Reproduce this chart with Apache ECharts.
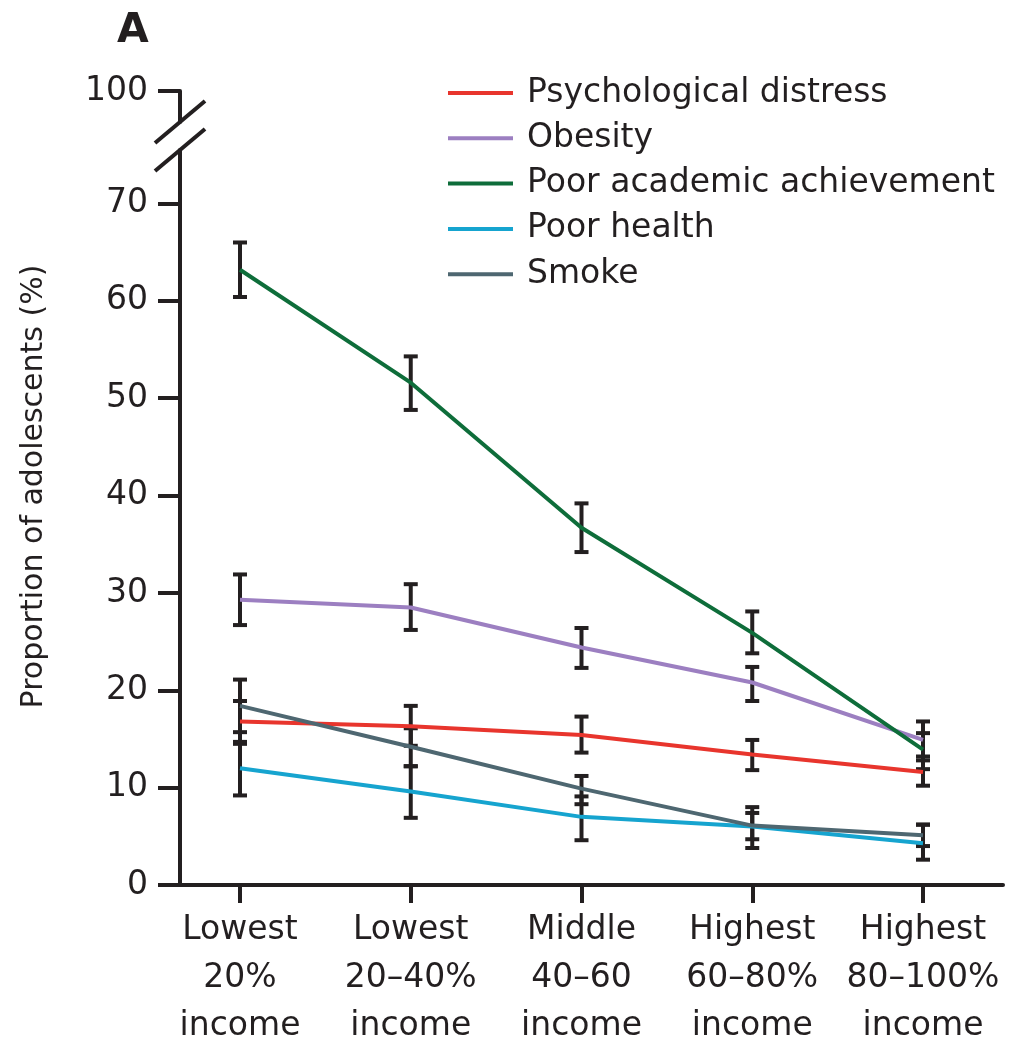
<!DOCTYPE html>
<html>
<head>
<meta charset="utf-8">
<script src="https://cdn.jsdelivr.net/npm/echarts@6/dist/echarts.min.js"></script>
<style>
  html, body { margin: 0; padding: 0; background: #fff; }
  #chart { width: 1012px; height: 1045px; }
</style>
</head>
<body>
<div id="chart"></div>
<script>
// Income groups along the x axis
const categories = [
  'Lowest\n20%\nincome',
  'Lowest\n20–40%\nincome',
  'Middle\n40–60\nincome',
  'Highest\n60–80%\nincome',
  'Highest\n80–100%\nincome'
];

// Outcome names (legend order)
const seriesNames = [
  'Psychological distress',
  'Obesity',
  'Poor academic achievement',
  'Poor health',
  'Smoke'
];

// Proportion of adolescents (%), point estimates
const distress = [16.8, 16.3, 15.4, 13.4, 11.6];
const obesity = [29.3, 28.5, 24.4, 20.8, 14.9];
const academic = [63.2, 51.6, 36.7, 25.9, 13.9];
const health = [12.0, 9.6, 7.0, 6.0, 4.3];
const smoke = [18.4, 14.2, 9.9, 6.1, 5.1];

// 95% confidence limits
const distressLow = [14.5, 14.3, 13.6, 11.8, 10.2];
const distressHigh = [18.9, 18.4, 17.3, 14.9, 12.8];
const obesityLow = [26.7, 26.2, 22.3, 18.9, 13.2];
const obesityHigh = [31.9, 30.9, 26.4, 22.4, 16.8];
const academicLow = [60.4, 48.8, 34.2, 23.8, 11.9];
const academicHigh = [66.0, 54.3, 39.2, 28.1, 15.6];
const healthLow = [9.2, 6.9, 4.6, 4.7, 2.6];
const healthHigh = [14.7, 12.2, 9.1, 7.4, 6.2];
const smokeLow = [15.7, 12.2, 8.3, 3.8, 4.0];
const smokeHigh = [21.1, 16.1, 11.2, 8.0, 6.2];

// Y axis tick labels (lower panel and the single upper tick)
const yTicksLower = [0, 10, 20, 30, 40, 50, 60, 70];
const yTicksUpper = [100];

const colors = ['#e8352d', '#9c7fc1', '#0e6d3a', '#16a4cf', '#4e6771'];
const ink = '#231f20';
const font = 'DejaVu Sans';

const values = [distress, obesity, academic, health, smoke];
const lows = [distressLow, obesityLow, academicLow, healthLow, smokeLow];
const highs = [distressHigh, obesityHigh, academicHigh, healthHigh, smokeHigh];

const xIdx = categories.map((_, i) => i);
const xMin = -0.3514, xMax = 4.4685;
const lowerMax = 75.5, upperMin = 97, upperMax = 100;

const chart = echarts.init(document.getElementById('chart'), null, { renderer: 'canvas' });

const lineSeries = seriesNames.map((name, s) => ({
  name: name,
  type: 'line',
  xAxisIndex: 0,
  yAxisIndex: 0,
  symbol: 'none',
  z: 4,
  lineStyle: { color: colors[s], width: 4 },
  itemStyle: { color: colors[s] },
  data: xIdx.map(i => [i, values[s][i]])
}));

const errorSeries = seriesNames.map((name, s) => ({
  name: name + ' CI',
  type: 'custom',
  xAxisIndex: 0,
  yAxisIndex: 0,
  z: 3,
  silent: true,
  data: xIdx.map(i => [i, lows[s][i], highs[s][i]]),
  renderItem: function (params, api) {
    const lo = api.coord([api.value(0), api.value(1)]);
    const hi = api.coord([api.value(0), api.value(2)]);
    const cap = 7;
    const style = { stroke: ink, lineWidth: 4, fill: null };
    return {
      type: 'group',
      children: [
        { type: 'line', shape: { x1: lo[0], y1: lo[1], x2: hi[0], y2: hi[1] }, style: style },
        { type: 'line', shape: { x1: lo[0] - cap, y1: lo[1], x2: lo[0] + cap, y2: lo[1] }, style: style },
        { type: 'line', shape: { x1: hi[0] - cap, y1: hi[1], x2: hi[0] + cap, y2: hi[1] }, style: style }
      ]
    };
  }
}));

const axisLineStyle = { color: ink, width: 4 };

chart.setOption({
  animation: false,
  backgroundColor: '#fff',
  title: {
    text: 'A',
    left: 112,
    top: 6,
    textStyle: { fontFamily: font, fontWeight: 'bold', fontSize: 41, color: ink }
  },
  legend: {
    orient: 'vertical',
    left: 443,
    top: 71,
    icon: 'rect',
    itemWidth: 65,
    itemHeight: 4,
    itemGap: 11.3,
    data: seriesNames,
    textStyle: {
      fontFamily: font, fontSize: 33, color: ink, lineHeight: 34,
      padding: [0, 0, 0, 9]
    }
  },
  grid: [
    { left: 180, right: 9, top: 150, bottom: 160, containLabel: false, outerBoundsMode: 'none' },
    { left: 180, right: 9, top: 91, height: 31, containLabel: false, outerBoundsMode: 'none' }
  ],
  xAxis: [
    {
      type: 'value', gridIndex: 0, min: xMin, max: xMax,
      axisLine: { show: true, onZero: false, lineStyle: axisLineStyle },
      axisTick: { show: true, customValues: xIdx, length: 18, lineStyle: { color: ink, width: 4 } },
      axisLabel: {
        show: true, customValues: xIdx, margin: 21,
        formatter: v => categories[Math.round(v)],
        fontFamily: font, fontSize: 33, lineHeight: 48, color: ink, align: 'center'
      },
      splitLine: { show: false }
    },
    {
      type: 'value', gridIndex: 1, min: xMin, max: xMax, show: false
    }
  ],
  yAxis: [
    {
      type: 'value', gridIndex: 0, min: 0, max: lowerMax,
      name: 'Proportion of adolescents (%)',
      nameLocation: 'middle',
      nameGap: 131,
      nameTextStyle: { fontFamily: font, fontSize: 30, color: ink, padding: [0, 0, 0, 62] },
      axisLine: { show: true, onZero: false, lineStyle: axisLineStyle },
      axisTick: { show: true, customValues: yTicksLower, length: 22, lineStyle: { color: ink, width: 4 } },
      axisLabel: {
        show: true, customValues: yTicksLower, margin: 32,
        fontFamily: font, fontSize: 33, color: ink
      },
      splitLine: { show: false }
    },
    {
      type: 'value', gridIndex: 1, min: upperMin, max: upperMax,
      axisLine: { show: true, onZero: false, lineStyle: axisLineStyle },
      axisTick: { show: true, customValues: yTicksUpper, length: 22, lineStyle: { color: ink, width: 4 } },
      axisLabel: {
        show: true, customValues: yTicksUpper, margin: 32,
        fontFamily: font, fontSize: 33, color: ink
      },
      splitLine: { show: false }
    }
  ],
  series: errorSeries.concat(lineSeries)
});

// Axis break marks: two parallel slashes at the ends of the two y-axis segments
const axisX = chart.convertToPixel({ xAxisIndex: 0 }, xMin);
const breakTop = chart.convertToPixel({ yAxisIndex: 1 }, upperMin);
const breakBottom = chart.convertToPixel({ yAxisIndex: 0 }, lowerMax);
const slash = (y) => ({
  type: 'line',
  z: 10,
  shape: { x1: axisX - 25, y1: y + 21, x2: axisX + 25, y2: y - 21 },
  style: { stroke: ink, lineWidth: 4 }
});
chart.setOption({ graphic: [slash(breakTop), slash(breakBottom)] });
</script>
</body>
</html>
